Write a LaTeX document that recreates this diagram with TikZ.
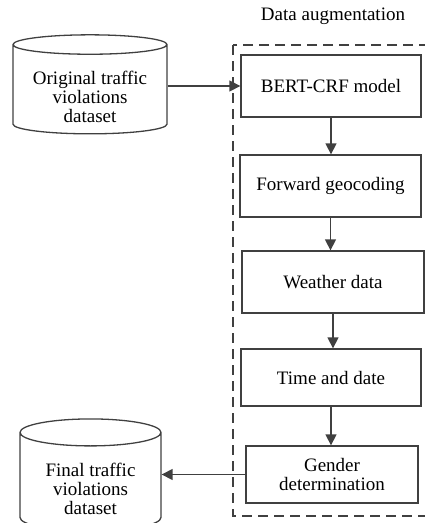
\documentclass[tikz,border=0pt]{standalone}
\usepackage{fontspec}
\setmainfont{Liberation Serif}
\usetikzlibrary{shapes.geometric,arrows.meta}
\definecolor{linegray}{HTML}{404040}
\newcommand{\storetext}[2]{\raisebox{#1}[\height][\depth]{\begin{tabular}{@{}c@{}}#2\end{tabular}}}
\tikzset{
	stage/.style={draw=linegray,line width=1.3pt,align=center,inner sep=0pt},
	store/.style={draw=linegray,line width=1.3pt,shape=cylinder,shape border rotate=90,
		inner sep=0pt},
	flow/.style={draw=linegray,line width=1.4pt,-{Triangle[length=11pt,width=11pt]}},
}
\begin{document}
\begin{tikzpicture}[x=1pt,y=-1pt,font=\fontsize{19}{19}\selectfont]
			\useasboundingbox (0,0) rectangle (425,523);
			\node (title) at (333,16) {Data augmentation};
			\draw[linegray,line width=1.3pt,dash pattern=on 10pt off 6pt] (233,45) rectangle (428,516);
			\node[store,minimum width=154pt,minimum height=99pt,aspect=0.17] (orig) at (90,89.5) {\storetext{-10pt}{Original traffic\\violations\\dataset}};
			\node[store,minimum width=141pt,minimum height=112pt,aspect=0.3] (final) at (90.5,482) {\storetext{-10pt}{Final traffic\\violations\\dataset}};
			\node[stage,minimum width=180pt,minimum height=62pt] (bert) at (331,86) {BERT-CRF model};
			\node[stage,minimum width=181pt,minimum height=62pt] (geo) at (330.5,186) {Forward geocoding};
			\node[stage,minimum width=182pt,minimum height=62pt] (weather) at (333,282) {Weather data};
			\node[stage,minimum width=180pt,minimum height=57pt] (time) at (331,377.5) {Time and date};
			\node[stage,minimum width=172pt,minimum height=57pt] (gender) at (332,474.5) {Gender\\determination};
			\draw[flow] (orig.east |- bert) -- (bert.west);
			\draw[flow] (bert.south) -- (bert.south |- geo.north);
			\draw[flow] (geo.south) -- (geo.south |- weather.north);
			\draw[flow] (weather.south) -- (weather.south |- time.north);
			\draw[flow] (time.south) -- (time.south |- gender.north);
			\draw[flow] (gender.west) -- (final.east |- gender.west);
\end{tikzpicture}
\end{document}
